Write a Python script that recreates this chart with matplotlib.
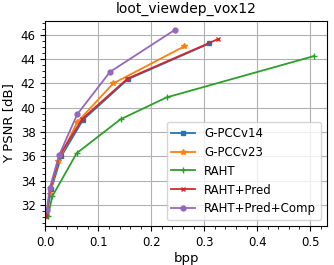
import matplotlib
matplotlib.use("Agg")
import matplotlib.pyplot as plt
from matplotlib.ticker import AutoMinorLocator

# rate (bpp) / Y PSNR (dB) per codec
gpcc14_bpp = [0.002, 0.011, 0.030, 0.071, 0.156, 0.310]
gpcc14_psnr = [31.1, 33.3, 36.0, 39.0, 42.35, 45.3]

gpcc23_bpp = [0.002, 0.008, 0.024, 0.060, 0.128, 0.262]
gpcc23_psnr = [31.1, 32.9, 35.6, 38.8, 42.0, 45.05]

raht_bpp = [0.005, 0.013, 0.059, 0.142, 0.229, 0.507]
raht_psnr = [31.1, 32.7, 36.25, 39.05, 40.85, 44.25]

pred_bpp = [0.002, 0.009, 0.027, 0.070, 0.155, 0.326]
pred_psnr = [31.1, 33.3, 36.1, 39.1, 42.4, 45.65]

comp_bpp = [0.003, 0.008, 0.026, 0.060, 0.122, 0.244]
comp_psnr = [31.6, 33.35, 36.1, 39.45, 42.95, 46.4]

plt.rcParams["font.size"] = 9.5
plt.rcParams["xtick.labelsize"] = 8.5
plt.rcParams["ytick.labelsize"] = 8.5
plt.rcParams["legend.fontsize"] = 8.5
plt.rcParams["axes.titlesize"] = 10
plt.rcParams["lines.linewidth"] = 1.3

fig, ax = plt.subplots(figsize=(3.34, 2.65), dpi=100)

ax.plot(gpcc14_bpp, gpcc14_psnr, marker="s", markersize=3.5, label="G-PCCv14")
ax.plot(gpcc23_bpp, gpcc23_psnr, marker="*", markersize=4, label="G-PCCv23")
ax.plot(raht_bpp, raht_psnr, marker="+", markersize=4, label="RAHT")
ax.plot(pred_bpp, pred_psnr, marker="x", markersize=3.5, label="RAHT+Pred")
ax.plot(comp_bpp, comp_psnr, marker="o", markersize=3.5, label="RAHT+Pred+Comp")

ax.set_title("loot_viewdep_vox12")
ax.set_xlabel("bpp", labelpad=2)
ax.set_ylabel("Y PSNR [dB]")
ax.set_xlim(0, 0.532)
ax.set_ylim(30.25, 47.15)
ax.set_yticks([32, 34, 36, 38, 40, 42, 44, 46])
ax.xaxis.set_minor_locator(AutoMinorLocator())
ax.yaxis.set_minor_locator(AutoMinorLocator())
ax.grid(True, which="major")
ax.legend(loc="lower right")

fig.subplots_adjust(left=0.136, right=0.979, top=0.921, bottom=0.147)
fig.savefig("out.png", dpi=100)
